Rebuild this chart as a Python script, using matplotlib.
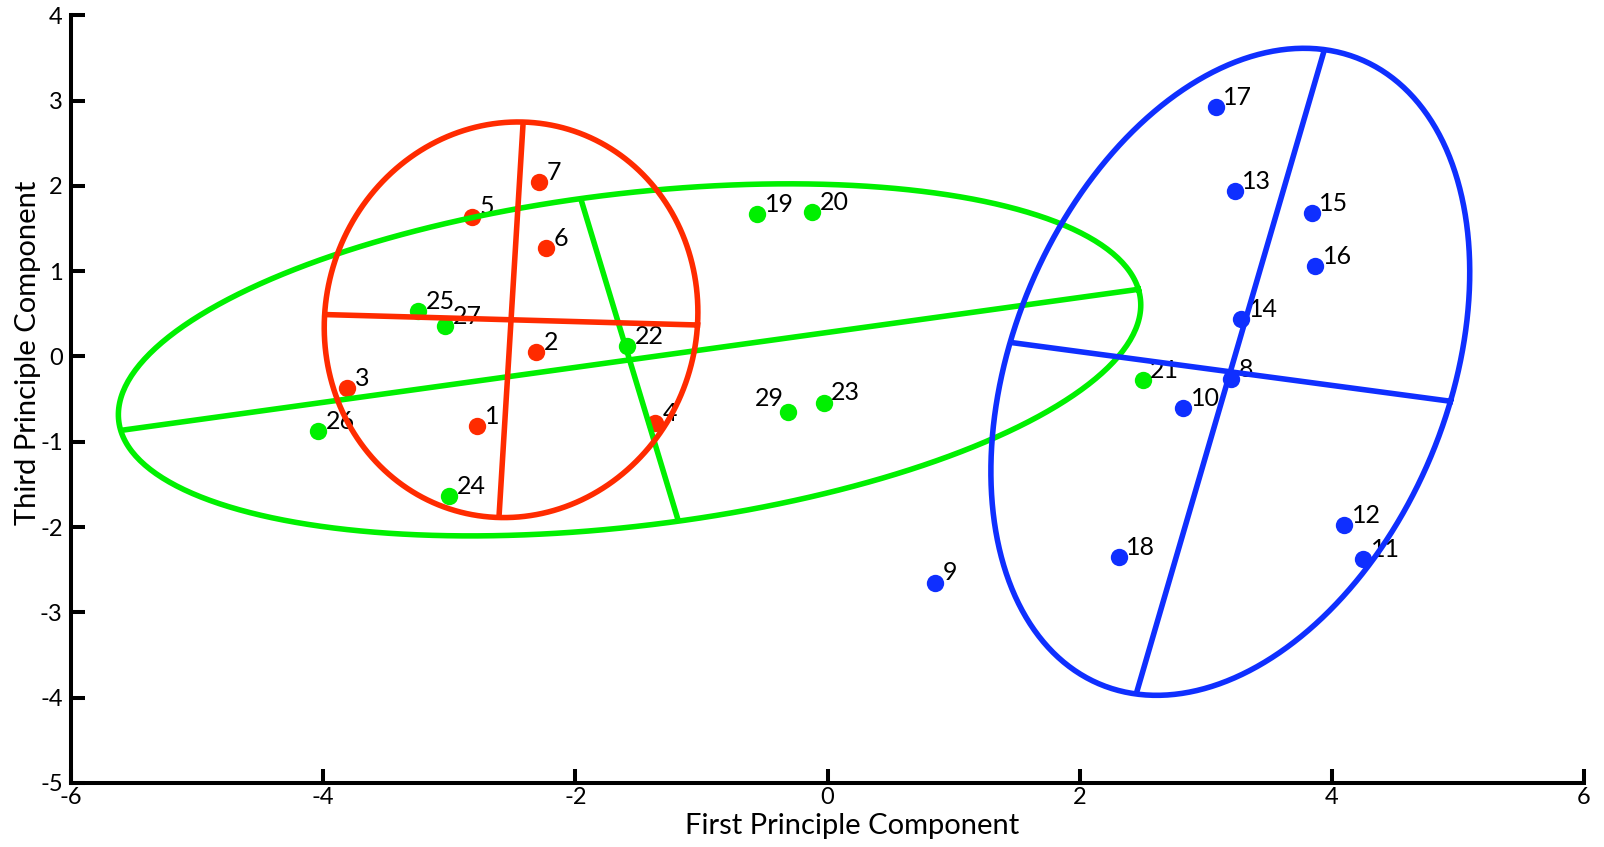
import numpy as np
import matplotlib.pyplot as plt

plt.rcParams['font.family'] = ['Lato', 'DejaVu Sans']
plt.rcParams['axes.unicode_minus'] = False

# scores on PC1 / PC3, one group per colour
red_ids = [1, 2, 3, 4, 5, 6, 7]
red_x = [-2.78, -2.31, -3.81, -1.37, -2.82, -2.23, -2.29]
red_y = [-0.82, 0.05, -0.37, -0.78, 1.64, 1.27, 2.04]

blue_ids = [8, 9, 10, 11, 12, 13, 14, 15, 16, 17, 18]
blue_x = [3.20, 0.85, 2.82, 4.25, 4.10, 3.23, 3.28, 3.84, 3.87, 3.08, 2.31]
blue_y = [-0.27, -2.65, -0.61, -2.37, -1.98, 1.94, 0.44, 1.68, 1.06, 2.92, -2.35]

green_ids = [19, 20, 21, 22, 23, 24, 25, 26, 27, 29]
green_x = [-0.56, -0.12, 2.50, -1.59, -0.03, -3.00, -3.25, -4.04, -3.03, -0.31]
green_y = [1.67, 1.69, -0.28, 0.12, -0.54, -1.64, 0.53, -0.87, 0.36, -0.65]

# confidence ellipses: centre, semi-axis a (along angle), semi-axis b, angle in degrees
red_ell = [(-2.51, 0.43), 1.48, 2.32, -2.37]
green_ell = [(-1.57, -0.04), 4.12, 1.93, 11.58]
blue_ell = [(3.195, -0.18), 1.78, 3.85, -11.18]

RED = '#ff2b00'
GREEN = '#00f000'
BLUE = '#0f2fff'
LW = 4.0


def draw_ellipse(ax, ell, color):
    (cx, cy), a, b, ang = ell
    th = np.deg2rad(ang)
    u = np.array([np.cos(th), np.sin(th)])
    v = np.array([-np.sin(th), np.cos(th)])
    t = np.linspace(0, 2 * np.pi, 400)
    xs = cx + a * np.cos(t) * u[0] + b * np.sin(t) * v[0]
    ys = cy + a * np.cos(t) * u[1] + b * np.sin(t) * v[1]
    ax.plot(xs, ys, color=color, lw=LW, zorder=3)
    # principal axes
    ax.plot([cx - a * u[0], cx + a * u[0]], [cy - a * u[1], cy + a * u[1]],
            color=color, lw=LW, zorder=3, solid_capstyle='butt')
    ax.plot([cx - b * v[0], cx + b * v[0]], [cy - b * v[1], cy + b * v[1]],
            color=color, lw=LW, zorder=3, solid_capstyle='butt')


def draw_points(ax, ids, xs, ys, color):
    ax.plot(xs, ys, 'o', color=color, ms=12.5, mec='none', zorder=2)
    for i, x, y in zip(ids, xs, ys):
        if i == 29:
            ax.annotate(str(i), (x, y), xytext=(-3, 4.5), textcoords='offset points',
                        ha='right', va='baseline', fontsize=18, zorder=2)
        else:
            ax.annotate(str(i), (x, y), xytext=(5.5, 1.5), textcoords='offset points',
                        ha='left', va='baseline', fontsize=18, zorder=2)


fig = plt.figure(figsize=(16.04, 8.47), dpi=100)
ax = fig.add_axes([0.0443, 0.0756, 0.9432, 0.9064])

draw_points(ax, red_ids, red_x, red_y, RED)
draw_points(ax, blue_ids, blue_x, blue_y, BLUE)
draw_points(ax, green_ids, green_x, green_y, GREEN)

draw_ellipse(ax, green_ell, GREEN)
draw_ellipse(ax, red_ell, RED)
draw_ellipse(ax, blue_ell, BLUE)

ax.set_xlim(-6, 6)
ax.set_ylim(-5, 4)
ax.set_xticks(np.arange(-6, 7, 2))
ax.set_yticks(np.arange(-5, 5, 1))

for s in ['top', 'right']:
    ax.spines[s].set_visible(False)
for s in ['left', 'bottom']:
    ax.spines[s].set_linewidth(2.9)
ax.tick_params(direction='in', length=10, width=2.9, labelsize=17)
ax.tick_params(axis='y', pad=6)
ax.tick_params(axis='x', pad=3)

ax.set_xlabel('First Principle Component', fontsize=21)
ax.set_ylabel('Third Principle Component', fontsize=21)
ax.xaxis.set_label_coords(0.516, -0.056)
ax.xaxis.label.set_va('center')
ax.yaxis.set_label_coords(-0.0287, 0.560)
ax.yaxis.label.set_va('center')

fig.savefig('out.png', dpi=100)
